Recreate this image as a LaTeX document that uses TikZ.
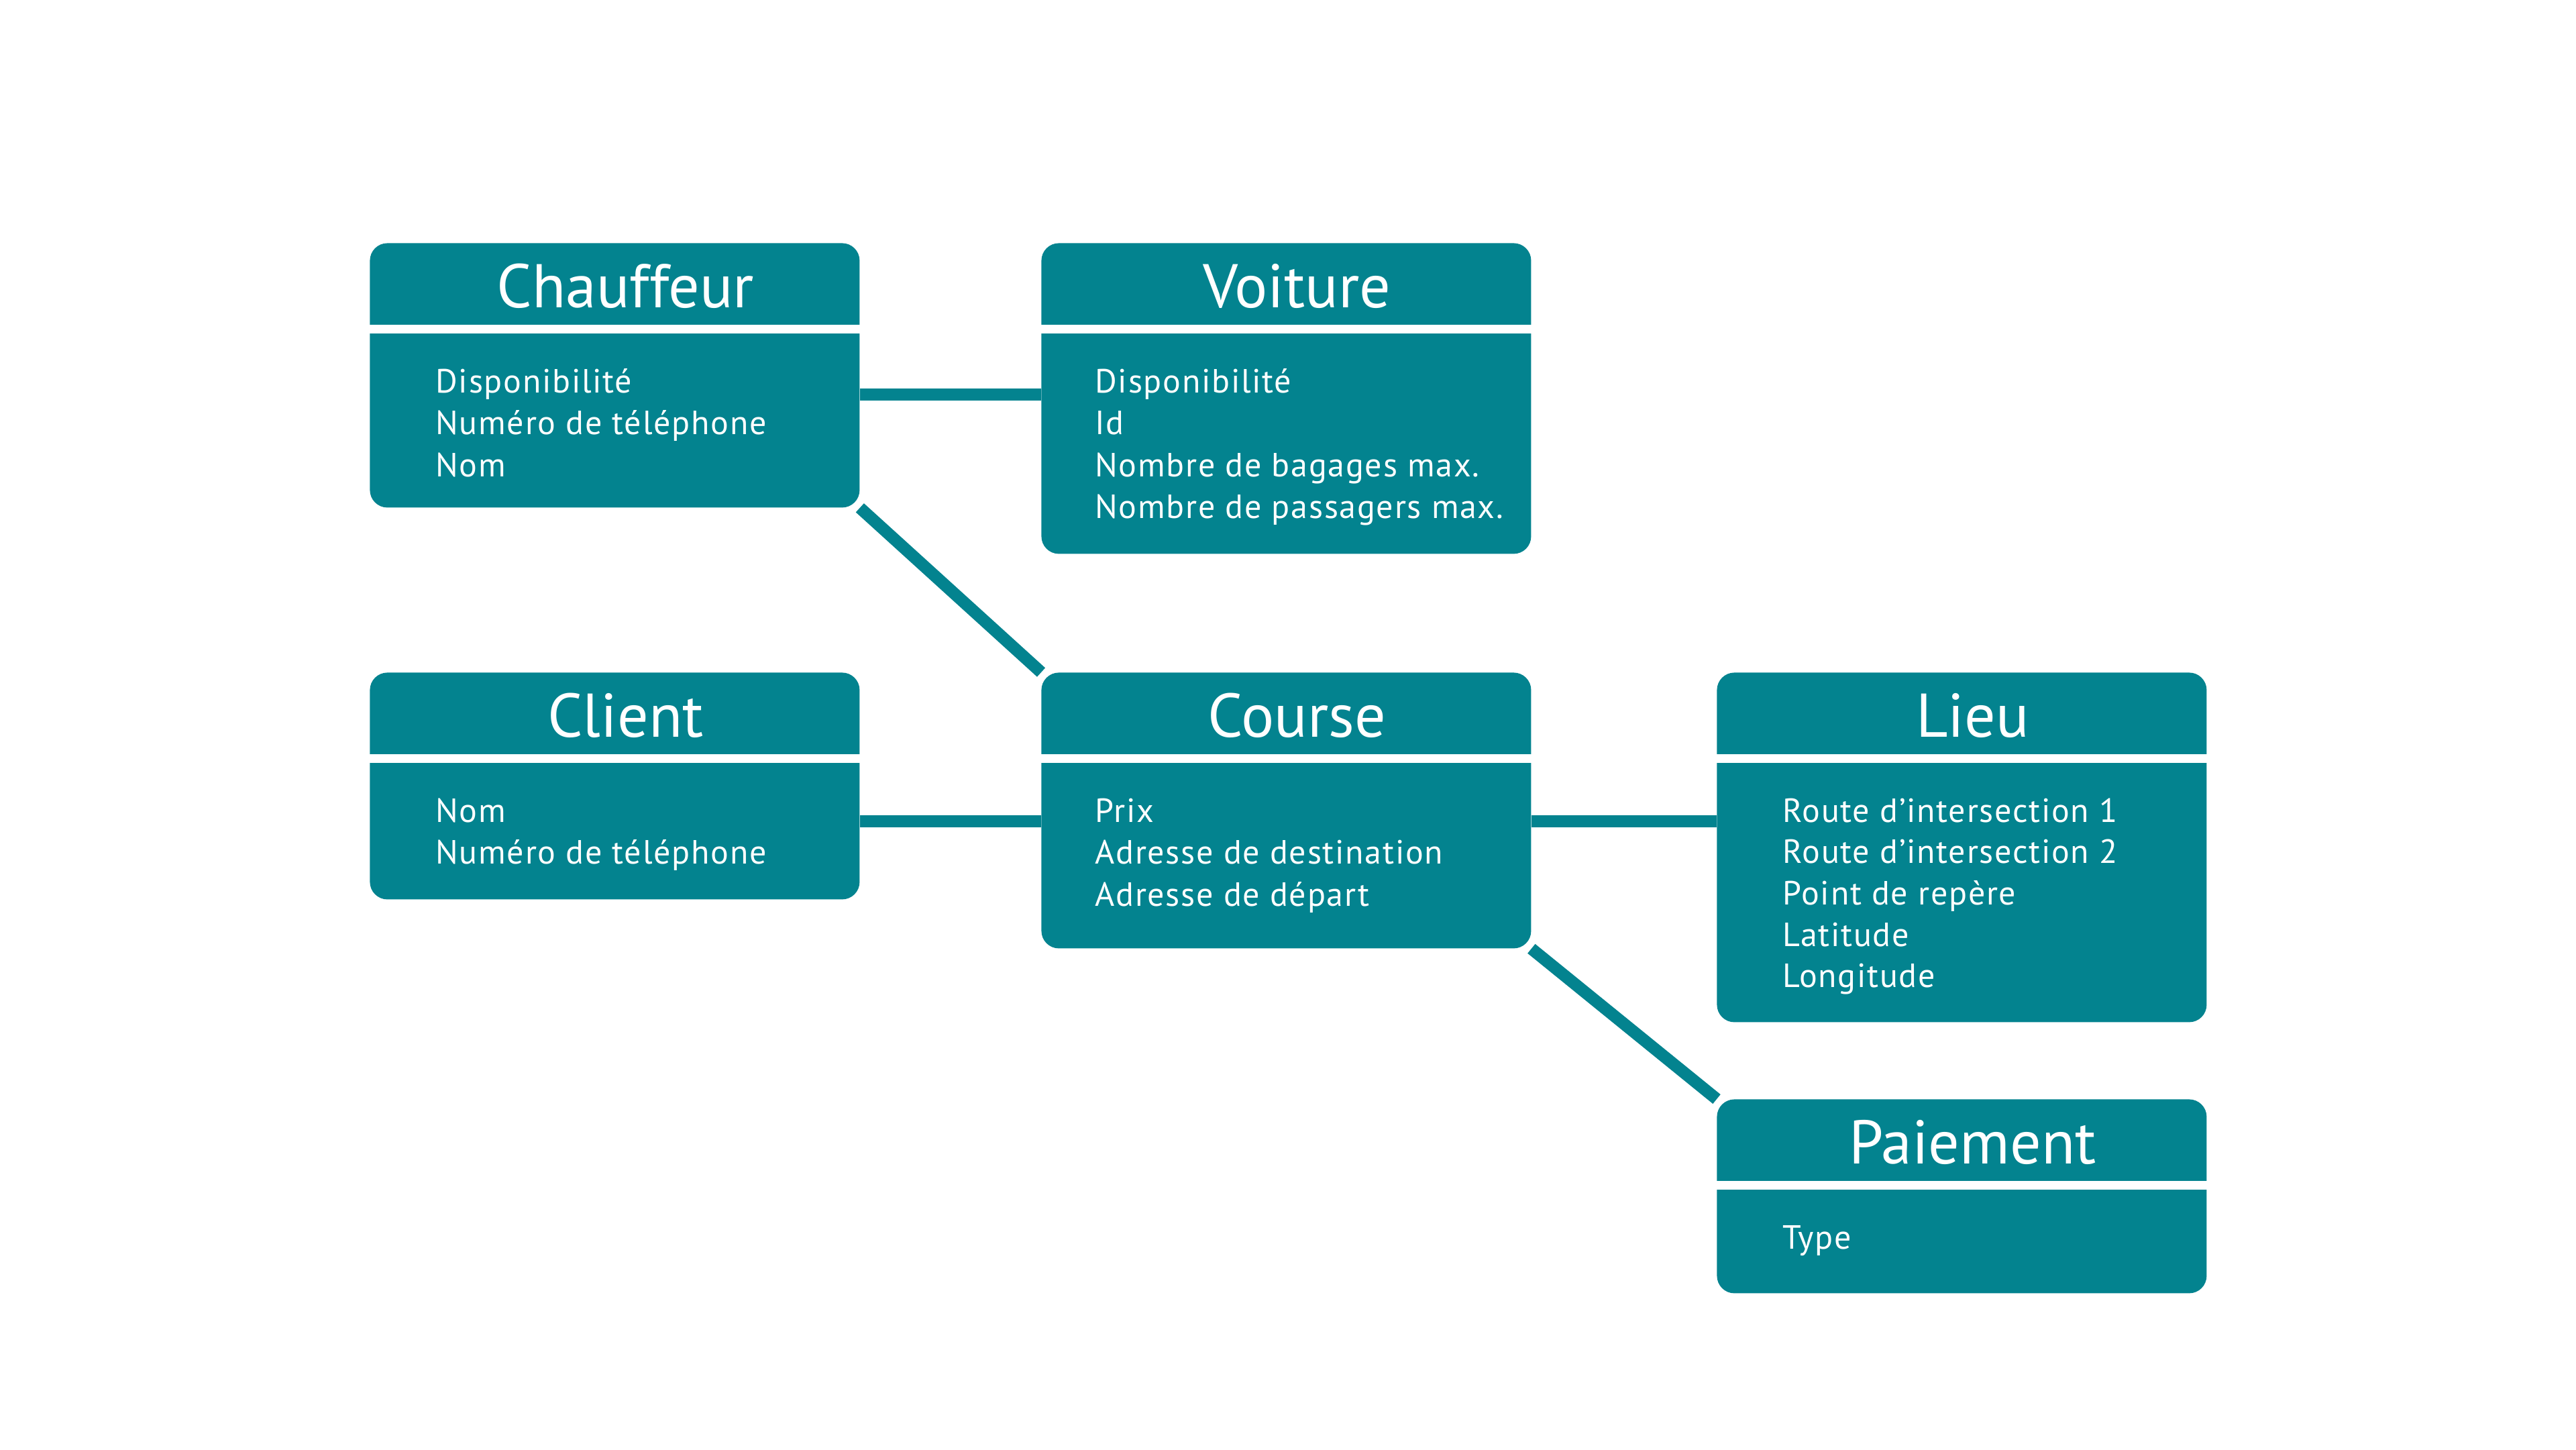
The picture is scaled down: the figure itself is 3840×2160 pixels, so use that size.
\documentclass[tikz,border=0pt]{standalone}
\usepackage{fontspec}
\setmainfont{PT Sans}
\newfontfamily\bodyfont{PT Sans}[LetterSpace=3.5]
\usetikzlibrary{calc,backgrounds}
\definecolor{teal1}{RGB}{3,131,143}
\begin{document}
\begin{tikzpicture}[x=0.5pt,y=-0.5pt,
  box/.style={fill=teal1, rounded corners=13pt, inner sep=0pt, minimum width=365pt, anchor=north west},
  title/.style={text=white, font=\fontsize{46}{52}\selectfont, anchor=base, inner sep=0pt},
  attr/.style={text=white, font=\bodyfont\fontsize{25}{30}\selectfont, anchor=base west, inner sep=0pt},
  conn/.style={draw=teal1, line width=9pt}]
\useasboundingbox (0,0) rectangle (3840,2160);

% boxes
\node[box, minimum height=197pt]   (chauffeur) at (551,362) {};
\node[box, minimum height=231.5pt] (voiture)   at (1552,362) {};
\node[box, minimum height=169pt]   (client)    at (551,1002) {};
\node[box, minimum height=205.5pt] (course)    at (1552,1002) {};
\node[box, minimum height=260.5pt] (lieu)      at (2559,1002) {};
\node[box, minimum height=144.5pt] (paiement)  at (2559,1638) {};

% header separators
\foreach \b in {chauffeur,voiture,client,course,lieu,paiement}
  \fill[white] ($(\b.north west)+(0,122)$) rectangle ($(\b.north east)+(0,135)$);

% titles
\node[title] (chauffeur-t) at ($(chauffeur.north)+(16,96)$) {Chauffeur};
\node[title] (voiture-t)   at ($(voiture.north)+(16,96)$) {Voiture};
\node[title] (client-t)    at ($(client.north)+(16,96)$) {Client};
\node[title] (course-t)    at ($(course.north)+(16,96)$) {Course};
\node[title] (lieu-t)      at ($(lieu.north)+(16,96)$) {Lieu};
\node[title] (paiement-t)  at ($(paiement.north)+(16,96)$) {Paiement};

% attributes
\foreach \t [count=\i from 0] in {Disponibilité, Numéro de téléphone, Nom}
  \node[attr] (chauffeur-\i) at ($(chauffeur.north west)+(98,223+62.5*\i)$) {\t};
\foreach \t [count=\i from 0] in {Disponibilité, Id, Nombre de bagages max., Nombre de passagers max.}
  \node[attr] (voiture-\i) at ($(voiture.north west)+(80,223+62.5*\i)$) {\t};
\foreach \t [count=\i from 0] in {Nom, Numéro de téléphone}
  \node[attr] (client-\i) at ($(client.north west)+(98,223+62.5*\i)$) {\t};
\foreach \t [count=\i from 0] in {Prix, Adresse de destination, Adresse de départ}
  \node[attr] (course-\i) at ($(course.north west)+(80,223+62.5*\i)$) {\t};
\foreach \t [count=\i from 0] in {Route d’intersection 1, Route d’intersection 2, Point de repère, Latitude, Longitude}
  \node[attr] (lieu-\i) at ($(lieu.north west)+(98,223+61.7*\i)$) {\t};
\foreach \t [count=\i from 0] in {Type}
  \node[attr] (paiement-\i) at ($(paiement.north west)+(98,223+62.5*\i)$) {\t};

% connectors
\begin{scope}[on background layer]
  \fill[white] (0,0) rectangle (3840,2160);
  \draw[conn] ([yshift=-113pt]chauffeur.north east) -- ([yshift=-113pt]voiture.north west);
  \draw[conn] ([yshift=-111pt]client.north east) -- ([yshift=-111pt]course.north west);
  \draw[conn] ([yshift=-111pt]course.north east) -- ([yshift=-111pt]lieu.north west);
  \draw[conn] (chauffeur.south east) -- (course.north west);
  \draw[conn] (course.south east) -- (paiement.north west);
\end{scope}
\end{tikzpicture}
\end{document}
